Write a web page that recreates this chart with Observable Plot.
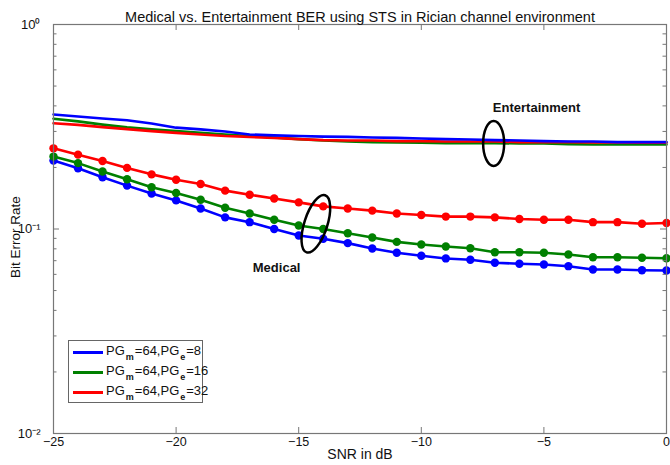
<!DOCTYPE html>
<html>
<head>
<meta charset="utf-8">
<script src="https://cdn.jsdelivr.net/npm/d3@7"></script>
<script src="https://cdn.jsdelivr.net/npm/@observablehq/plot@0.6"></script>
<style>
  body { margin: 0; background: #fff; }
  #chart { position: relative; width: 670px; height: 465px; font-family: "Liberation Sans", Arial, sans-serif; }
  #chart svg { display: block; }
  .legend { position: absolute; left: 68px; top: 340px; width: 135px; height: 63px; border: 1px solid #666;
            background: #fff; box-sizing: border-box; font-size: 13px; color: #111; }
  .legend .row { position: absolute; left: 4px; height: 18px; display: flex; align-items: center; white-space: nowrap; }
  .legend .sw { width: 30px; height: 3px; margin-right: 3px; }
  .legend sub { font-size: 9px; vertical-align: -5px; margin: 0 1px; font-weight: bold; }
</style>
</head>
<body>
<div id="chart"></div>
<script>
// SNR sweep (dB)
const snr = [-25, -24, -23, -22, -21, -20, -19, -18, -17, -16, -15, -14, -13, -12, -11, -10, -9, -8, -7, -6, -5, -4, -3, -2, -1, 0];

// Medical traffic BER (PGm = 64)
const medicalPGe8  = [0.216, 0.198, 0.179, 0.163, 0.149, 0.138, 0.126, 0.114, 0.108, 0.100, 0.0929, 0.0896, 0.0853, 0.0803, 0.0765, 0.0740, 0.0718, 0.0707, 0.0684, 0.0676, 0.0671, 0.0658, 0.0634, 0.0634, 0.0629, 0.0627];
const medicalPGe16 = [0.226, 0.210, 0.191, 0.175, 0.160, 0.150, 0.139, 0.127, 0.119, 0.111, 0.104, 0.100, 0.0954, 0.0909, 0.0865, 0.0840, 0.0821, 0.0805, 0.0770, 0.0770, 0.0765, 0.0750, 0.0728, 0.0728, 0.0723, 0.0720];
const medicalPGe32 = [0.248, 0.231, 0.215, 0.199, 0.185, 0.174, 0.166, 0.154, 0.147, 0.141, 0.135, 0.129, 0.126, 0.123, 0.119, 0.117, 0.115, 0.115, 0.114, 0.112, 0.111, 0.111, 0.108, 0.108, 0.106, 0.107];

// Entertainment traffic BER
const entertainPGe8  = [0.363, 0.355, 0.347, 0.340, 0.328, 0.313, 0.307, 0.300, 0.290, 0.287, 0.285, 0.283, 0.282, 0.280, 0.279, 0.277, 0.275, 0.274, 0.272, 0.271, 0.269, 0.268, 0.268, 0.266, 0.266, 0.266];
const entertainPGe16 = [0.346, 0.336, 0.324, 0.314, 0.307, 0.301, 0.295, 0.290, 0.285, 0.280, 0.275, 0.271, 0.268, 0.266, 0.265, 0.264, 0.263, 0.263, 0.263, 0.262, 0.262, 0.260, 0.259, 0.259, 0.259, 0.259];
const entertainPGe32 = [0.329, 0.323, 0.315, 0.308, 0.301, 0.295, 0.290, 0.285, 0.282, 0.279, 0.275, 0.272, 0.271, 0.271, 0.269, 0.269, 0.268, 0.268, 0.268, 0.266, 0.266, 0.266, 0.265, 0.265, 0.264, 0.264];

// Axis ticks
const xTicks = [-25, -20, -15, -10, -5, 0];
const yTicks = [1, 0.1, 0.01];
const yTickLabels = ["10⁰", "10⁻¹", "10⁻²"];
const yMinorTicks = [0.02, 0.03, 0.04, 0.05, 0.06, 0.07, 0.08, 0.09, 0.2, 0.3, 0.4, 0.5, 0.6, 0.7, 0.8, 0.9];

// Group annotations
const groupNames = ["Medical", "Entertainment"];
const groupLabelX = [-15.9, -5.3];
const groupLabelY = [0.0648, 0.393];
const groupRingX = [-14.3, -7.05];
const groupRingY = [0.106, 0.262];

// Legend entries
const pgE = [8, 16, 32];
const seriesColors = ["#0000ff", "#008000", "#ff0000"];

const rows = snr.map((s, i) => ({
  snr: s,
  m8: medicalPGe8[i], m16: medicalPGe16[i], m32: medicalPGe32[i],
  e8: entertainPGe8[i], e16: entertainPGe16[i], e32: entertainPGe32[i]
}));
const groups = groupNames.map((name, i) => ({
  name, lx: groupLabelX[i], ly: groupLabelY[i], rx: groupRingX[i], ry: groupRingY[i]
}));

// ellipse outline usable as a dot symbol
function ellipseSymbol(a, b) {
  const k = 0.5523;
  return {
    draw(ctx) {
      ctx.moveTo(a, 0);
      ctx.bezierCurveTo(a, k * b, k * a, b, 0, b);
      ctx.bezierCurveTo(-k * a, b, -a, k * b, -a, 0);
      ctx.bezierCurveTo(-a, -k * b, -k * a, -b, 0, -b);
      ctx.bezierCurveTo(k * a, -b, a, -k * b, a, 0);
      ctx.closePath();
    }
  };
}

const W = 670, H = 465;
const M = { top: 24, right: 4, bottom: 32, left: 53 };
const innerW = W - M.left - M.right;
const innerH = H - M.top - M.bottom;
const lw = 2.6;
const axisGray = "#777";
const font = "'Liberation Sans', Arial, sans-serif";

// short inward tick marks along each side of the box
const ticksX = (len) => [
  Plot.ruleX(xTicks, { x: d => d, insetTop: innerH - len, stroke: axisGray }),
  Plot.ruleX(xTicks, { x: d => d, insetBottom: innerH - len, stroke: axisGray })
];
const ticksY = (values, len) => [
  Plot.ruleY(values, { y: d => d, insetRight: innerW - len, stroke: axisGray }),
  Plot.ruleY(values, { y: d => d, insetLeft: innerW - len, stroke: axisGray })
];

const chart = Plot.plot({
  width: W,
  height: H,
  marginTop: M.top,
  marginBottom: M.bottom,
  marginLeft: M.left,
  marginRight: M.right,
  style: { fontFamily: font, fontSize: "12px", background: "#fff", color: "#111" },
  x: { domain: [-25, 0], label: null },
  y: { type: "log", domain: [0.01, 1], label: null },
  marks: [
    // entertainment curves
    Plot.line(rows, { x: "snr", y: "e16", stroke: seriesColors[1], strokeWidth: lw }),
    Plot.line(rows, { x: "snr", y: "e32", stroke: seriesColors[2], strokeWidth: lw }),
    Plot.line(rows, { x: "snr", y: "e8", stroke: seriesColors[0], strokeWidth: lw }),
    // medical curves with markers
    Plot.line(rows, { x: "snr", y: "m8", stroke: seriesColors[0], strokeWidth: lw }),
    Plot.dot(rows, { x: "snr", y: "m8", r: 4.2, fill: seriesColors[0] }),
    Plot.line(rows, { x: "snr", y: "m16", stroke: seriesColors[1], strokeWidth: lw }),
    Plot.dot(rows, { x: "snr", y: "m16", r: 4.2, fill: seriesColors[1] }),
    Plot.line(rows, { x: "snr", y: "m32", stroke: seriesColors[2], strokeWidth: lw }),
    Plot.dot(rows, { x: "snr", y: "m32", r: 4.2, fill: seriesColors[2] }),
    // group rings and labels
    Plot.dot(groups.filter(g => g.name === "Medical"), {
      x: "rx", y: "ry", r: 10, symbol: ellipseSymbol(11.5, 30), rotate: 18,
      fill: "none", stroke: "#000", strokeWidth: 2.5
    }),
    Plot.dot(groups.filter(g => g.name === "Entertainment"), {
      x: "rx", y: "ry", r: 10, symbol: ellipseSymbol(10.5, 22.5),
      fill: "none", stroke: "#000", strokeWidth: 2.5
    }),
    Plot.text(groups, {
      x: "lx", y: "ly", text: "name", fontWeight: "bold", fontSize: 13, fill: "#111"
    }),
    // box, inward ticks and tick labels
    Plot.frame({ stroke: axisGray, strokeWidth: 1.2 }),
    ...ticksX(6),
    ...ticksY(yTicks, 6),
    ...ticksY(yMinorTicks, 3.5),
    Plot.axisX(xTicks, { anchor: "bottom", tickSize: 0, tickPadding: 4, label: null, fontSize: 12.5, fill: "#111" }),
    Plot.axisY(yTicks, {
      anchor: "left", tickSize: 0, tickPadding: 13, label: null, fontSize: 13, fill: "#111",
      tickFormat: d => yTickLabels[yTicks.indexOf(d)]
    }),
    // titles
    Plot.text(["Medical vs. Entertainment BER using STS in Rician channel environment"], {
      frameAnchor: "top", textAnchor: "middle", dy: -13, fontSize: 14.5, fill: "#111", text: d => d
    }),
    Plot.text(["SNR in dB"], { frameAnchor: "bottom", textAnchor: "middle", dy: 25, fontSize: 14, fill: "#111", text: d => d }),
    Plot.text(["Bit Error Rate"], {
      frameAnchor: "left", textAnchor: "middle", dx: -38, dy: 8, rotate: -90, fontSize: 13.5, fill: "#111", text: d => d
    })
  ]
});

const host = document.getElementById("chart");
host.appendChild(chart);

// legend box
const legend = document.createElement("div");
legend.className = "legend";
pgE.forEach((e, i) => {
  const row = document.createElement("div");
  row.className = "row";
  row.style.top = (2 + i * 20) + "px";
  row.innerHTML = `<span class="sw" style="background:${seriesColors[i]}"></span>` +
    `<span>PG<sub>m</sub>=64,PG<sub>e</sub>=${e}</span>`;
  legend.appendChild(row);
});
host.appendChild(legend);
</script>
</body>
</html>
